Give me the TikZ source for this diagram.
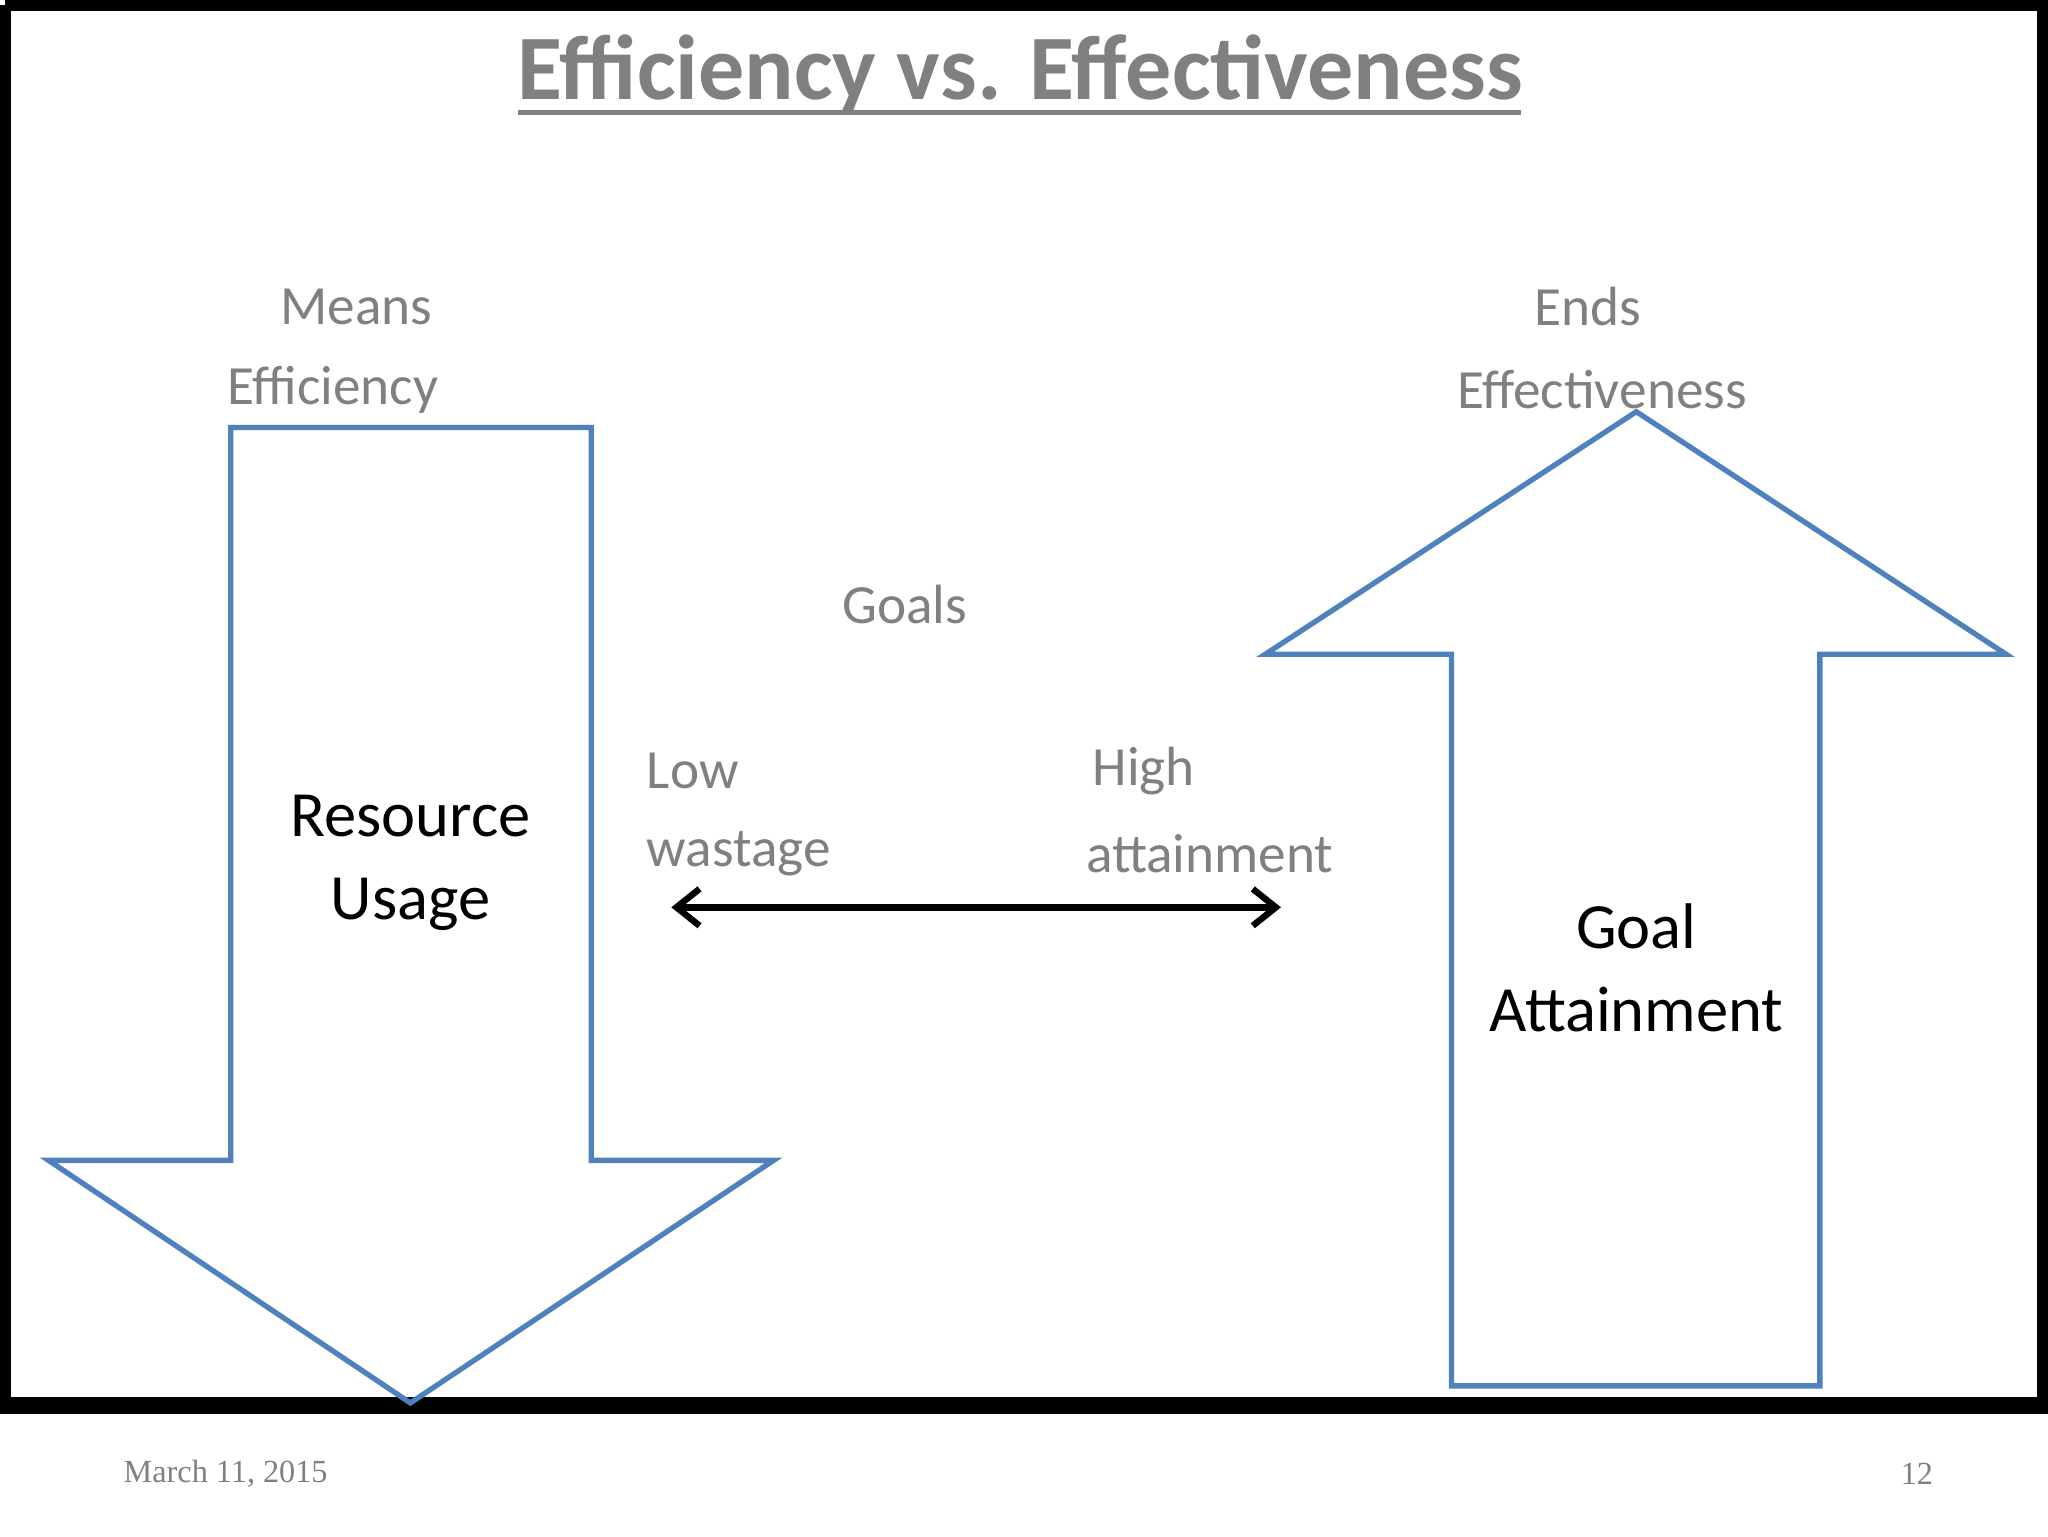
\documentclass[tikz,border=0pt]{standalone}
\usepackage{fontspec}
\setmainfont{Carlito}
\newfontfamily\footfont{Liberation Serif}
\usetikzlibrary{arrows.meta}
\definecolor{grayt}{RGB}{128,128,128}
\definecolor{arrowblue}{RGB}{79,129,189}
\begin{document}
\begin{tikzpicture}[x=0.02cm,y=-0.02cm,
  lbl/.style={text=grayt,font=\fontsize{24}{29}\selectfont,inner sep=0pt},
  big/.style={text=black,font=\fontsize{28}{36}\selectfont,align=center,inner sep=0pt},
  bigarrow/.style={draw=arrowblue,line width=2.3pt,line join=miter},
  foot/.style={text=grayt,font=\footfont\fontsize{14}{16}\selectfont,inner sep=0pt}]
\useasboundingbox (0,0) rectangle (1562,1172);
\fill[white] (0,0) rectangle (1562,1172);
\draw[line width=5pt] (4,4) -- (1558,4) -- (1558,1068);
\draw[line width=5pt] (4,4) -- (4,1068);
\draw[line width=7pt] (0,1072) -- (1562,1072);
\node[text=grayt,font=\bfseries\fontsize{40}{46}\selectfont,inner sep=0pt] (title) at (778,57) {Efficiency vs. Effectiveness};
\draw[grayt,line width=2pt] (395,86) -- (1160,86);
\draw[bigarrow] (176,326) -- (451,326) -- (451,885) -- (590,885) -- (313,1070) -- (37,885) -- (176,885) -- cycle;
\draw[bigarrow] (1248,314) -- (1530,499) -- (1388,499) -- (1388,1057) -- (1107,1057) -- (1107,499) -- (965,499) -- cycle;
\node[lbl] (means) at (272,234) {Means};
\node[lbl,anchor=west] (eff) at (173,297) {Efficiency};
\node[lbl] (ends) at (1211,234) {Ends};
\node[lbl,anchor=west] (effe) at (1111,297) {Effectiveness};
\node[lbl] (goals) at (690,461) {Goals};
\node[lbl,anchor=west] (low) at (493,588) {Low};
\node[lbl,anchor=west] (wast) at (493,651) {wastage};
\node[lbl,anchor=west] (high) at (833,588) {High};
\node[lbl,anchor=west] (att) at (828,651) {attainment};
\node[big] (res) at (313,658) {Resource\\Usage};
\node[big] (goal) at (1248,738) {Goal\\Attainment};
\coordinate (la) at (512,692);
\coordinate (ra) at (977,692);
\draw[line width=2.8pt,{Straight Barb[length=10pt,width=16pt]}-{Straight Barb[length=10pt,width=16pt]}] (la) -- (ra);
\node[foot,anchor=west] (date) at (94,1124) {March 11, 2015};
\node[foot] (page) at (1462,1124) {12};
\end{tikzpicture}
\end{document}
